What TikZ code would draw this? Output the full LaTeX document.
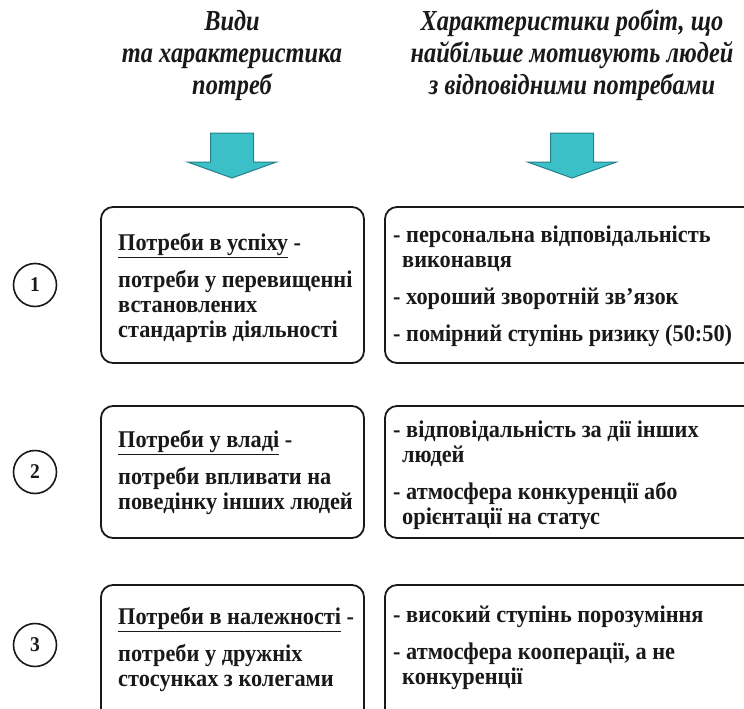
\documentclass[tikz,border=0pt]{standalone}
\usepackage{fontspec}
\setmainfont{Liberation Serif}[FakeStretch=0.93]
\newfontfamily\headfont{Liberation Serif}[FakeStretch=0.84]
\usetikzlibrary{positioning}

\definecolor{arrowfill}{RGB}{60,192,200}
\definecolor{arrowline}{RGB}{38,128,138}
\definecolor{ink}{RGB}{25,25,25}

\def\pgap{12pt}
\def\hang{\hspace*{9pt}}

\begin{document}
\begin{tikzpicture}[x=1pt,y=-1pt,
  box/.style={draw=ink,line width=1.8pt,rounded corners=12pt},
  num node/.style={circle,draw=ink,line width=1.6pt,minimum size=43pt,inner sep=0pt,
    text=ink,font=\bfseries\fontsize{21}{21}\selectfont},
  head node/.style={align=center,text=ink,font=\headfont\bfseries\itshape\fontsize{29}{32}\selectfont},
  text node/.style={align=left,anchor=north west,inner sep=0pt,text=ink,
    font=\bfseries\fontsize{24}{25}\selectfont},
  fat arrow/.style={fill=arrowfill,draw=arrowline,line width=1pt}]

\useasboundingbox (0,0) rectangle (744,709);
\clip (0,0) rectangle (744,709);

% headings over the two columns
\node[head node] (hneeds) at (232,56) {Види\\та характеристика\\потреб};
\node[head node] (hwork) at (572,55) {Характеристики робіт, що\\найбільше мотивують людей\\з відповідними потребами};

% down arrows
\foreach \cx in {232,572}
  \draw[fat arrow] (\cx-21.5,133) -- (\cx+21.5,133) -- (\cx+21.5,162) -- (\cx+44.5,162)
    -- (\cx,178) -- (\cx-44.5,162) -- (\cx-21.5,162) -- cycle;

% boxes (right ones run off the page)
\draw[box] (101,207) rectangle (364,363);
\draw[box] (385,207) rectangle (770,363);
\draw[box] (101,406) rectangle (364,538);
\draw[box] (385,406) rectangle (770,538);
\draw[box] (101,585) rectangle (364,760);
\draw[box] (385,585) rectangle (770,760);

% numbers
\node[num node] (n1) at (35,285) {1};
\node[num node] (n2) at (35,472) {2};
\node[num node] (n3) at (35,645) {3};

% row 1
\node[text node] (need1) at (118,233) {\underline{Потреби в успіху} -\\[\pgap]потреби у перевищенні\\встановлених\\стандартів діяльності};
\node[text node] (work1) at (393,226) {- персональна відповідальність\\\hang виконавця\\[\pgap]- хороший зворотній зв’язок\\[\pgap]- помірний ступінь ризику (50:50)};

% row 2
\node[text node] (need2) at (118,430) {\underline{Потреби у владі} -\\[\pgap]потреби впливати на\\поведінку інших людей};
\node[text node] (work2) at (393,421) {- відповідальність за дії інших\\\hang людей\\[\pgap]- атмосфера конкуренції або\\\hang орієнтації на статус};

% row 3
\node[text node] (need3) at (118,607) {\underline{Потреби в належності} -\\[\pgap]потреби у дружніх\\стосунках з колегами};
\node[text node] (work3) at (393,606) {- високий ступінь порозуміння\\[\pgap]- атмосфера кооперації, а не\\\hang конкуренції};

\end{tikzpicture}
\end{document}
